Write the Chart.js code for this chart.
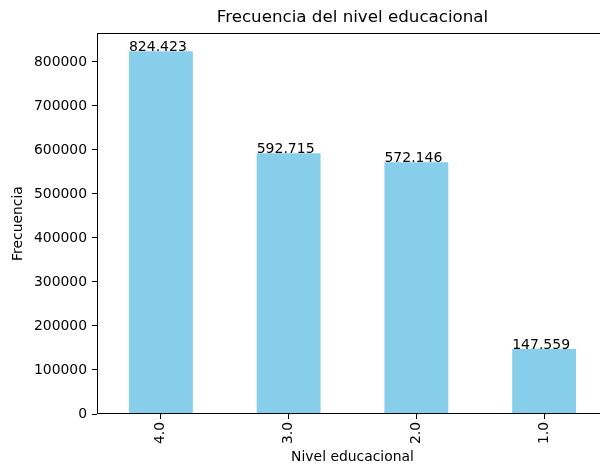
<!DOCTYPE html>
<html>
<head>
<meta charset="utf-8">
<script src="https://cdn.jsdelivr.net/npm/chart.js@4/dist/chart.umd.min.js"></script>
<style>
html,body{margin:0;padding:0;background:#fff;overflow:hidden;width:600px;height:468px;}
canvas{display:block;}
</style>
</head>
<body>
<canvas id="c" width="608" height="468"></canvas>
<script>
const categories = ['4.0', '3.0', '2.0', '1.0'];
const frequencies = [824423, 592715, 572146, 147559];
const barLabels = ['824.423', '592.715', '572.146', '147.559'];
const yTicks = [0, 100000, 200000, 300000, 400000, 500000, 600000, 700000, 800000];
const yMax = 865644;

const FONT = "'DejaVu Sans', sans-serif";

const frame = {
  id: 'frame',
  afterDatasetsDraw(chart) {
    const ctx = chart.ctx;
    const a = chart.chartArea;
    ctx.save();
    ctx.strokeStyle = '#000';
    ctx.lineWidth = 1;
    ctx.strokeRect(Math.round(a.left) + 0.5, Math.round(a.top) + 0.5,
                   Math.round(a.right - a.left) - 1, Math.round(a.bottom - a.top) - 1);
    const meta = chart.getDatasetMeta(0);
    ctx.fillStyle = '#000';
    ctx.font = "14px " + FONT;
    ctx.textAlign = 'left';
    ctx.textBaseline = 'alphabetic';
    meta.data.forEach((bar, i) => {
      ctx.fillText(barLabels[i], bar.x - bar.width / 2, bar.y);
    });
    ctx.restore();
  }
};

new Chart(document.getElementById('c'), {
  type: 'bar',
  data: {
    labels: categories,
    datasets: [{
      data: frequencies,
      backgroundColor: '#87CEEB',
      borderWidth: 0,
      barPercentage: 0.5,
      categoryPercentage: 1.0
    }]
  },
  options: {
    responsive: false,
    animation: false,
    layout: { padding: { left: 0, right: 0, top: 0, bottom: 0 } },
    plugins: {
      legend: { display: false },
      tooltip: { enabled: false },
      title: {
        display: true,
        fullSize: false,
        text: 'Frecuencia del nivel educacional',
        color: '#000',
        font: { family: FONT, size: 16.7, weight: 'normal' },
        padding: { top: 8, bottom: 5 }
      }
    },
    scales: {
      x: {
        offset: true,
        grid: { display: true, offset: false, drawOnChartArea: false, drawTicks: true, tickLength: 5, tickColor: '#000', tickWidth: 1 },
        border: { display: false },
        ticks: { color: '#000', font: { family: FONT, size: 13.9 }, maxRotation: 90, minRotation: 90, padding: 3 },
        title: { display: true, text: 'Nivel educacional', color: '#000', font: { family: FONT, size: 13.9 }, padding: { top: 0, bottom: 2 } },
        afterFit(scale) { scale.height = 54; }
      },
      y: {
        min: 0,
        max: yMax,
        grid: { display: true, drawOnChartArea: false, drawTicks: true, tickLength: 5, tickColor: '#000', tickWidth: 1 },
        border: { display: false },
        ticks: { color: '#000', font: { family: FONT, size: 13.9 }, padding: 5, autoSkip: false,
                 callback: v => String(v) },
        afterBuildTicks(scale) { scale.ticks = yTicks.map(v => ({ value: v })); },
        title: { display: true, text: 'Frecuencia', color: '#000', font: { family: FONT, size: 13.9 }, padding: { top: 10, bottom: 0 } },
        afterFit(scale) { scale.width = 97; }
      }
    }
  },
  plugins: [frame]
});
</script>
</body>
</html>
